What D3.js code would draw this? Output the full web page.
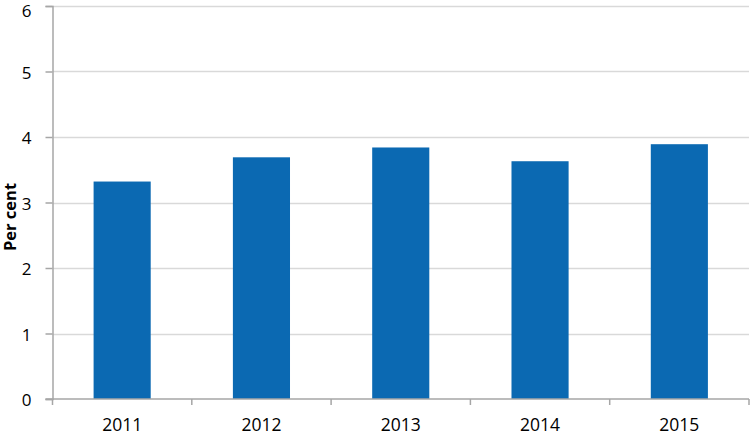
<!DOCTYPE html>
<html>
<head>
<meta charset="utf-8">
<script src="https://cdn.jsdelivr.net/npm/d3@7"></script>
<style>
  body { margin: 0; background: #fff; }
  svg text { font-family: "Open Sans", "Noto Sans", sans-serif; fill: #000; }
</style>
</head>
<body>
<div id="chart"></div>
<script>
// data
const years = ['2011', '2012', '2013', '2014', '2015'];
const perCent = [3.32, 3.69, 3.84, 3.63, 3.89];
const yTicks = [0, 1, 2, 3, 4, 5, 6];

const width = 750;
const height = 435;
const margin = { top: 6, right: 1, bottom: 36, left: 52.5 };

const svg = d3.select('#chart')
  .append('svg')
  .attr('width', width)
  .attr('height', height);

const x = d3.scaleBand()
  .domain(years)
  .range([margin.left, width - margin.right])
  .paddingInner(0.59)
  .paddingOuter(0.295);

const xCat = d3.scaleBand()
  .domain(years)
  .range([margin.left, width - margin.right]);

const y = d3.scaleLinear()
  .domain([0, 6])
  .range([height - margin.bottom, margin.top]);

// gridlines
svg.append('g')
  .selectAll('line')
  .data(yTicks.filter(d => d > 0))
  .enter().append('line')
  .attr('x1', margin.left)
  .attr('x2', width - margin.right)
  .attr('y1', d => Math.round(y(d)) + 0.5)
  .attr('y2', d => Math.round(y(d)) + 0.5)
  .attr('stroke', '#d9d9d9')
  .attr('stroke-width', 1.5);

// bars
svg.append('g')
  .selectAll('rect')
  .data(perCent)
  .enter().append('rect')
  .attr('x', (d, i) => x(years[i]))
  .attr('y', d => y(d))
  .attr('width', x.bandwidth())
  .attr('height', d => y(0) - y(d))
  .attr('fill', '#0b69b2');

// y axis
const yAxis = svg.append('g')
  .attr('transform', `translate(${margin.left},0)`)
  .call(d3.axisLeft(y).tickValues(yTicks).tickSize(7).tickPadding(14).tickFormat(d3.format('d')));
yAxis.select('.domain').attr('stroke', '#a6a6a6').attr('stroke-width', 1.5);
yAxis.selectAll('.tick line').attr('stroke', '#a6a6a6').attr('stroke-width', 1.5);
yAxis.selectAll('.tick text')
  .attr('dy', d => d === 6 ? '0.6em' : '0.4em')
  .style('font-size', '17px');

// x axis with ticks on category boundaries
const xAxisG = svg.append('g')
  .attr('transform', `translate(0,${y(0)})`);
xAxisG.append('line')
  .attr('x1', margin.left - 7)
  .attr('x2', width - margin.right)
  .attr('stroke', '#a6a6a6')
  .attr('stroke-width', 1.5);
xAxisG.selectAll('.bound')
  .data(years.concat(['end']))
  .enter().append('line')
  .attr('x1', (d, i) => margin.left + i * xCat.bandwidth())
  .attr('x2', (d, i) => margin.left + i * xCat.bandwidth())
  .attr('y1', 0)
  .attr('y2', 6)
  .attr('stroke', '#a6a6a6')
  .attr('stroke-width', 1.5);
xAxisG.selectAll('.lbl')
  .data(years)
  .enter().append('text')
  .attr('x', d => xCat(d) + xCat.bandwidth() / 2)
  .attr('y', 32)
  .attr('text-anchor', 'middle')
  .style('font-size', '17.5px')
  .text(d => d);

// axis title
svg.append('text')
  .attr('transform', `translate(16,217) rotate(-90)`)
  .attr('text-anchor', 'middle')
  .style('font-size', '16.5px')
  .style('font-weight', 'bold')
  .text('Per cent');
</script>
</body>
</html>
